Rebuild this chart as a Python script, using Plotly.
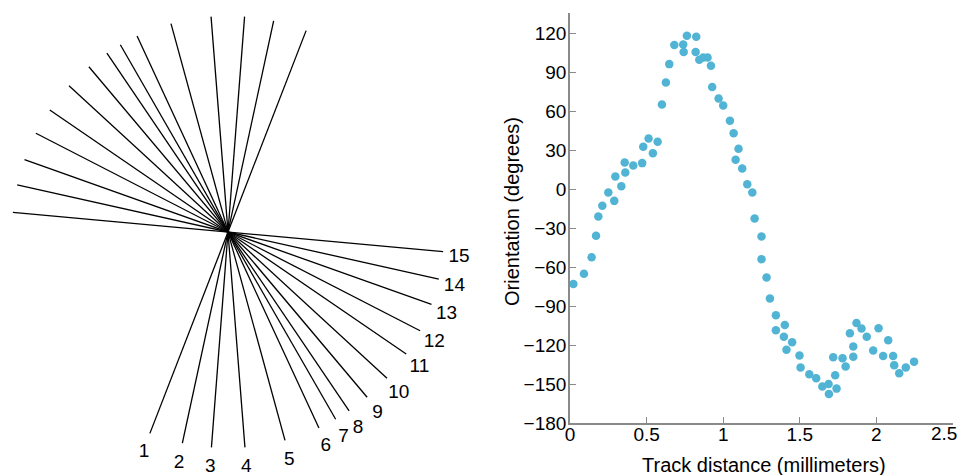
import numpy as np
import plotly.graph_objects as go

# ---------------- data ----------------
# left panel: orientation of each numbered line (degrees, direction of the upper end)
line_labels = [str(i) for i in range(1, 16)]
line_angles_deg = [68.8, 77.8, 85.6, 94.5, 105.3, 114.9, 119.9, 124.1,
                   130.1, 137.4, 145.6, 152.8, 160.4, 167.4, 174.8]

# right panel: orientation vs track distance
track_mm = [0.022, 0.091, 0.141, 0.170, 0.185, 0.211, 0.250, 0.289, 0.296, 0.335,
            0.357, 0.361, 0.413, 0.471, 0.478, 0.513, 0.541, 0.572, 0.600, 0.626,
            0.648, 0.681, 0.739, 0.742, 0.763, 0.820, 0.824, 0.844, 0.870, 0.898,
            0.920, 0.928, 0.970, 1.000, 1.044, 1.068, 1.081, 1.100, 1.124, 1.157,
            1.190, 1.205, 1.250, 1.250, 1.283, 1.305, 1.344, 1.344, 1.396, 1.402,
            1.413, 1.450, 1.498, 1.505, 1.562, 1.607, 1.647, 1.688, 1.690, 1.718,
            1.731, 1.740, 1.779, 1.799, 1.827, 1.849, 1.849, 1.870, 1.903, 1.937,
            1.979, 2.014, 2.044, 2.077, 2.109, 2.116, 2.149, 2.192, 2.246]
orientation_deg = [-72.8, -65.0, -52.2, -35.7, -20.9, -12.6, -2.4, -8.8, 10.0, 2.5,
                   20.8, 13.0, 18.5, 20.3, 33.0, 39.3, 28.0, 36.7, 65.5, 82.5,
                   96.6, 111.3, 111.7, 105.9, 118.5, 105.9, 117.7, 100.0, 101.7, 101.7,
                   95.3, 78.9, 70.1, 64.7, 52.9, 43.4, 22.9, 31.3, 16.1, 4.1,
                   -2.4, -22.3, -36.3, -53.7, -67.9, -84.1, -96.9, -108.5, -113.6, -104.4,
                   -123.6, -117.7, -128.0, -137.3, -142.4, -145.5, -151.9, -149.9, -157.6, -129.3,
                   -143.2, -153.5, -130.0, -136.5, -110.8, -121.1, -129.0, -103.0, -107.2, -113.6,
                   -124.2, -106.9, -128.3, -116.2, -128.3, -135.4, -141.6, -137.3, -132.7]

x_tickvals = [0, 0.5, 1, 1.5, 2, 2.5]
x_ticktext = ["0", "0.5", "1", "1.5", "2", "2.5"]
y_tickvals = [120, 90, 60, 30, 0, -30, -60, -90, -120, -150, -180]
y_ticktext = ["120", "90", "60", "30", "0", "\u221230", "\u221260", "\u221290",
              "\u2212120", "\u2212150", "\u2212180"]
x_title = "Track distance (millimeters)"
y_title = "Orientation (degrees)"

# ---------------- styles ----------------
FONT = "Liberation Sans, Arial, Helvetica, sans-serif"
W, H = 963, 475
HALF_LEN = 216
LABEL_R = 232
LABEL_DY = -4
AX_GRAY = "#8a8a8a"
TICK_FONT = dict(family=FONT, size=19, color="black")
TITLE_FONT = dict(family=FONT, size=20, color="black")

fig = go.Figure()

# left panel lines
theta = np.deg2rad(np.array(line_angles_deg))
lx, ly = [], []
for t in theta:
    lx += [HALF_LEN * np.cos(t), -HALF_LEN * np.cos(t), None]
    ly += [HALF_LEN * np.sin(t), -HALF_LEN * np.sin(t), None]
fig.add_trace(go.Scatter(x=lx, y=ly, mode="lines",
                         line=dict(color="black", width=1.3),
                         xaxis="x", yaxis="y", hoverinfo="skip"))
fig.add_trace(go.Scatter(x=list(-LABEL_R * np.cos(theta)),
                         y=list(-LABEL_R * np.sin(theta) + LABEL_DY),
                         mode="text", text=line_labels,
                         textposition="middle center",
                         textfont=dict(family=FONT, size=19, color="black"),
                         xaxis="x", yaxis="y", hoverinfo="skip"))

# right panel scatter
fig.add_trace(go.Scatter(x=track_mm, y=orientation_deg, mode="markers",
                         marker=dict(color="#52b4d4", size=8.5, line=dict(width=0)),
                         xaxis="x2", yaxis="y2"))

# last x tick label would overflow the page edge: draw it shifted inward
fig.add_annotation(x=x_tickvals[-1], y=-180, xref="x2", yref="y2",
                   text=x_ticktext[-1], showarrow=False,
                   xanchor="right", yanchor="middle", xshift=6, yshift=-10,
                   font=TICK_FONT)
# axis titles
fig.add_annotation(x=764 / W, y=1 - 465 / H, xref="paper", yref="paper",
                   text=x_title, showarrow=False, xanchor="center", yanchor="middle",
                   font=TITLE_FONT)
fig.add_annotation(x=512 / W, y=1 - 212 / H, xref="paper", yref="paper",
                   text=y_title, showarrow=False, xanchor="center", yanchor="middle",
                   textangle=-90, font=TITLE_FONT)

fig.update_layout(
    template="none",
    width=W, height=H, autosize=False,
    margin=dict(l=0, r=0, t=0, b=0, pad=0),
    paper_bgcolor="white", plot_bgcolor="white",
    showlegend=False,
    font=dict(family=FONT, color="black"),
    xaxis=dict(domain=[0, 0.5], range=[-228, 253.5], visible=False, fixedrange=True,
               automargin=False),
    yaxis=dict(domain=[0, 1], range=[-243, 232], visible=False, fixedrange=True,
               automargin=False),
    xaxis2=dict(domain=[570 / W, 953 / W], range=[0, 2.5], anchor="y2", automargin=False,
                showgrid=False, zeroline=False, showline=True, linecolor=AX_GRAY, linewidth=1.6,
                ticks="inside", ticklen=6, tickcolor=AX_GRAY, tickwidth=1.2,
                tickvals=x_tickvals, ticktext=x_ticktext[:-1] + [""],
                ticklabelstandoff=-7,
                tickfont=TICK_FONT),
    yaxis2=dict(domain=[(H - 423) / H, (H - 13) / H], range=[-180, 136], anchor="x2",
                automargin=False,
                showgrid=False, zeroline=False, showline=True, linecolor=AX_GRAY, linewidth=1.6,
                ticks="inside", ticklen=6, tickcolor=AX_GRAY, tickwidth=1.2,
                tickvals=y_tickvals, ticktext=y_ticktext,
                ticklabelstandoff=-2,
                tickfont=TICK_FONT),
)

fig.write_html("out.html", config={"displayModeBar": False, "responsive": False},
               post_script="document.body.style.margin='0';document.body.style.padding='0';")
